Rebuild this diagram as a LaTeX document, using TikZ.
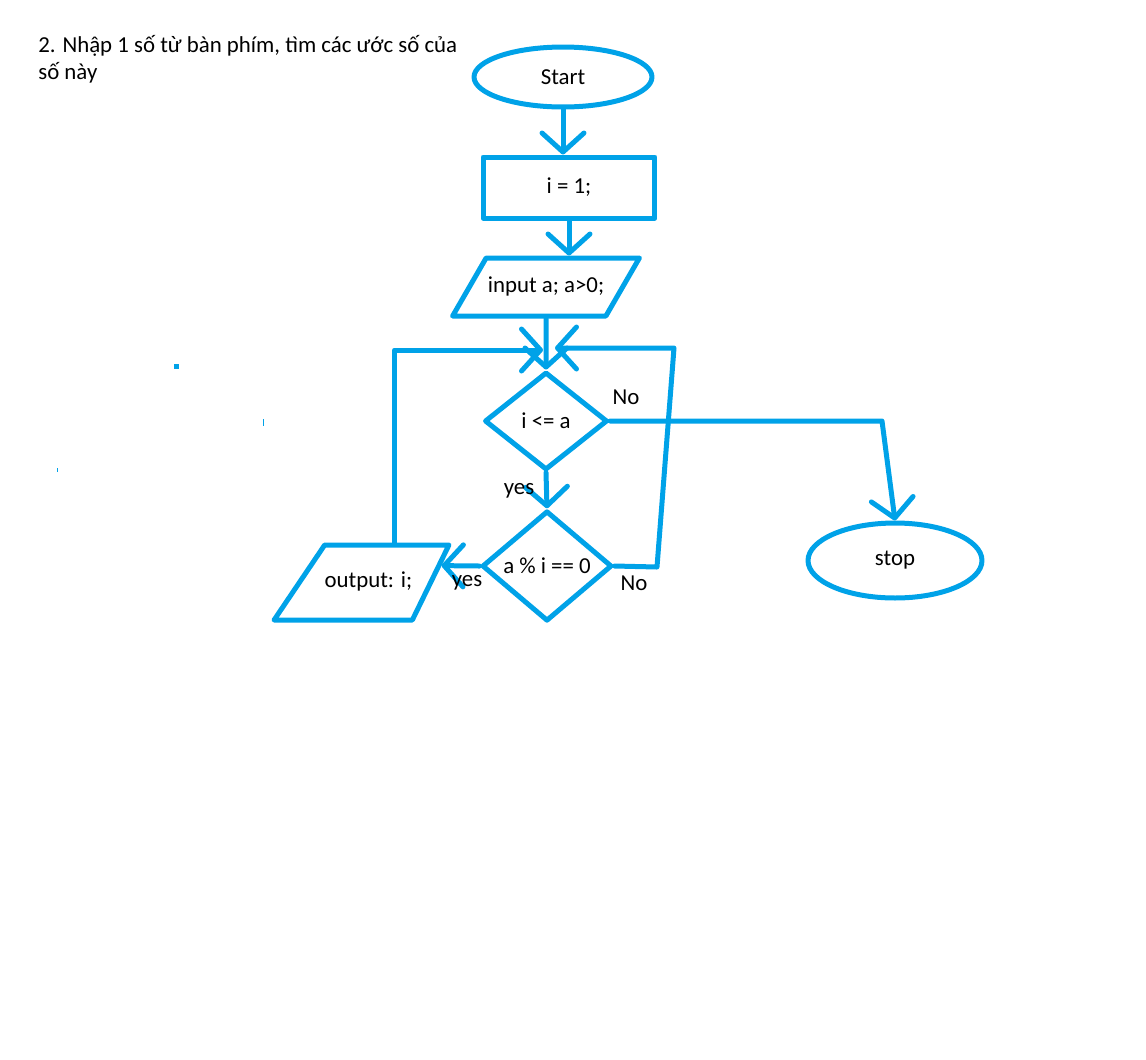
\documentclass[tikz,border=0pt]{standalone}
\usepackage{fontspec}
\setmainfont{Carlito}
\usetikzlibrary{arrows.meta,shapes.geometric}
\definecolor{paintblue}{RGB}{0,162,232}

\begin{document}
\begin{tikzpicture}[x=0.02cm, y=-0.02cm,
		font=\fontsize{13}{15.5}\selectfont,
		shape line/.style={draw=paintblue, line width=0.1cm, line join=round, inner sep=1pt},
		slanted/.style={shape line, trapezium, trapezium stretches body, text height=0.3cm, text depth=0.1cm},
		flow/.style={draw=paintblue, line width=0.1cm, line cap=round, line join=round,
			-{Straight Barb[length=0.38cm, width=0.84cm, round]}}]
		%%%%% START %%%%%
		
		\useasboundingbox (0, 0) rectangle (1146, 1059);
		
		\node[anchor=north west, align=left, inner sep=0] (title) at (38, 35) {2. Nhập 1 số từ bàn phím, tìm các ước số của\\số này};
		
		\node[shape line, ellipse, minimum width=3.56cm, minimum height=1.2cm] (start) at (563, 77) {Start};
		\node[shape line, rectangle, minimum width=3.44cm, minimum height=1.22cm] (init) at (569, 187.5) {i = 1;};
		\node[slanted, trapezium left angle=60, trapezium right angle=120,
			inner ysep=0.38cm, minimum width=3.62cm] (input) at (546, 287) {input a; a>0;};
		
		\node[shape line, diamond, minimum width=2.46cm, minimum height=1.96cm] (check) at (546, 421) {i <= a};
		\node[shape line, diamond, minimum width=2.6cm, minimum height=2.12cm] (divides) at (547, 566) {a \% i == 0};
		
		\node[slanted, trapezium left angle=56, trapezium right angle=116,
			inner ysep=0.55cm, inner xsep=0pt] (output) at (368.5, 582.5) {output: i;};
		\node[shape line, ellipse, minimum width=3.48cm, minimum height=1.5cm] (stop) at (895, 560.5) {stop};
		
		\coordinate (joinL) at (543, 350);
		\coordinate (joinR) at (555, 348);
		\coordinate (loopB) at (657, 567);
		\coordinate (loopT) at (674, 348);
		\coordinate (turn) at (882, 421);
		
		\draw[flow] (start.south) -- (start.south |- init.north);
		\draw[flow] (init.south) -- (init.south |- input.north);
		\draw[flow] (input.south) -- (check.north);
		\draw[flow] (check.south) -- (divides.north);
		\draw[flow] (check.east) -- (turn) -- (stop.north);
		\draw[flow] (divides.west) -- (output.13);
		\draw[flow] (divides.east) -- (loopB) -- (loopT) -- (joinR);
		\draw[flow] (output.57) |- (joinL);
		
		\node (noA) at (626, 397) {No};
		\node (yesA) at (519, 491) {yes};
		\node (noB) at (634, 583) {No};
		\node (yesB) at (467, 583) {yes};
		
		\fill[paintblue] (173.5, 363.5) rectangle (178.5, 368.5);
		\draw[paintblue, line width=0.02cm] (263, 419) -- (263, 426);
		\draw[paintblue, line width=0.02cm] (57, 468) -- (57, 472);
		
		%%%%% END %%%%%
	\end{tikzpicture}
\end{document}
